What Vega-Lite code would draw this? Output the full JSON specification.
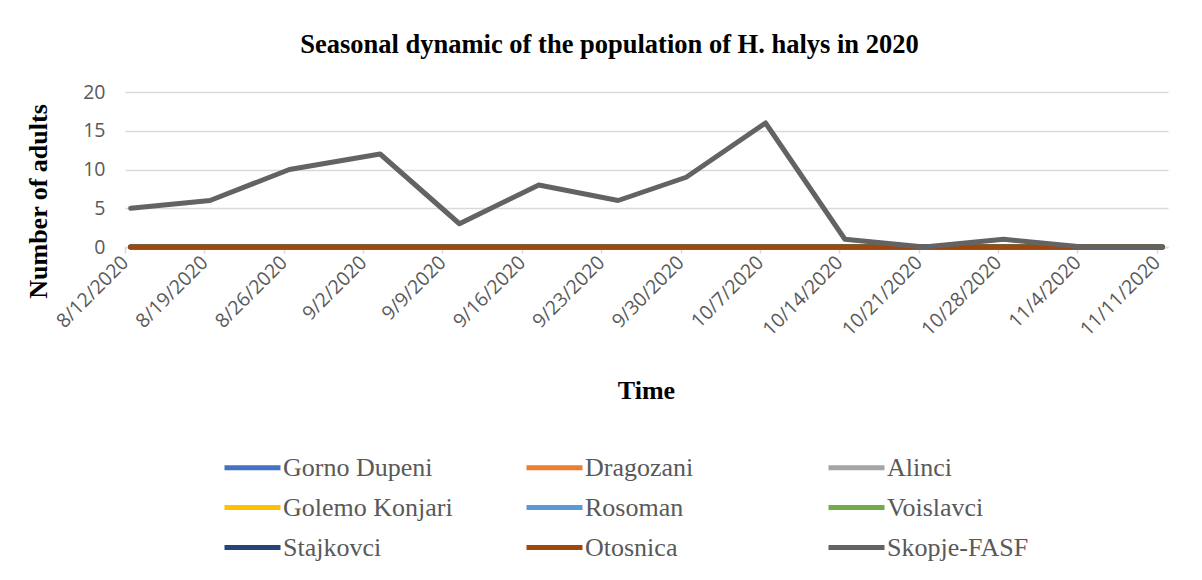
{
  "$schema": "https://vega.github.io/schema/vega-lite/v6.json",
  "autosize": {"type": "none"},
  "width": 1043,
  "height": 155,
  "padding": {"left": 125, "top": 92, "right": 34, "bottom": 333},
  "background": "white",
  "title": {
    "text": "Seasonal dynamic of the population of H. halys in 2020",
    "anchor": "middle",
    "dx": -37,
    "offset": 24,
    "font": "Liberation Serif",
    "fontSize": 26.5,
    "fontWeight": "bold",
    "color": "#000000"
  },
  "datasets": {
    "counts": [
      {"d": "2020-08-12", "s": "Gorno Dupeni", "v": 0}, {"d": "2020-08-19", "s": "Gorno Dupeni", "v": 0}, {"d": "2020-08-26", "s": "Gorno Dupeni", "v": 0}, {"d": "2020-09-03", "s": "Gorno Dupeni", "v": 0}, {"d": "2020-09-10", "s": "Gorno Dupeni", "v": 0}, {"d": "2020-09-17", "s": "Gorno Dupeni", "v": 0}, {"d": "2020-09-24", "s": "Gorno Dupeni", "v": 0}, {"d": "2020-09-30", "s": "Gorno Dupeni", "v": 0}, {"d": "2020-10-07", "s": "Gorno Dupeni", "v": 0}, {"d": "2020-10-14", "s": "Gorno Dupeni", "v": 0}, {"d": "2020-10-21", "s": "Gorno Dupeni", "v": 0}, {"d": "2020-10-28", "s": "Gorno Dupeni", "v": 0}, {"d": "2020-11-04", "s": "Gorno Dupeni", "v": 0}, {"d": "2020-11-11", "s": "Gorno Dupeni", "v": 0},
      {"d": "2020-08-12", "s": "Dragozani", "v": 0}, {"d": "2020-08-19", "s": "Dragozani", "v": 0}, {"d": "2020-08-26", "s": "Dragozani", "v": 0}, {"d": "2020-09-03", "s": "Dragozani", "v": 0}, {"d": "2020-09-10", "s": "Dragozani", "v": 0}, {"d": "2020-09-17", "s": "Dragozani", "v": 0}, {"d": "2020-09-24", "s": "Dragozani", "v": 0}, {"d": "2020-09-30", "s": "Dragozani", "v": 0}, {"d": "2020-10-07", "s": "Dragozani", "v": 0}, {"d": "2020-10-14", "s": "Dragozani", "v": 0}, {"d": "2020-10-21", "s": "Dragozani", "v": 0}, {"d": "2020-10-28", "s": "Dragozani", "v": 0}, {"d": "2020-11-04", "s": "Dragozani", "v": 0}, {"d": "2020-11-11", "s": "Dragozani", "v": 0},
      {"d": "2020-08-12", "s": "Alinci", "v": 0}, {"d": "2020-08-19", "s": "Alinci", "v": 0}, {"d": "2020-08-26", "s": "Alinci", "v": 0}, {"d": "2020-09-03", "s": "Alinci", "v": 0}, {"d": "2020-09-10", "s": "Alinci", "v": 0}, {"d": "2020-09-17", "s": "Alinci", "v": 0}, {"d": "2020-09-24", "s": "Alinci", "v": 0}, {"d": "2020-09-30", "s": "Alinci", "v": 0}, {"d": "2020-10-07", "s": "Alinci", "v": 0}, {"d": "2020-10-14", "s": "Alinci", "v": 0}, {"d": "2020-10-21", "s": "Alinci", "v": 0}, {"d": "2020-10-28", "s": "Alinci", "v": 0}, {"d": "2020-11-04", "s": "Alinci", "v": 0}, {"d": "2020-11-11", "s": "Alinci", "v": 0},
      {"d": "2020-08-12", "s": "Golemo Konjari", "v": 0}, {"d": "2020-08-19", "s": "Golemo Konjari", "v": 0}, {"d": "2020-08-26", "s": "Golemo Konjari", "v": 0}, {"d": "2020-09-03", "s": "Golemo Konjari", "v": 0}, {"d": "2020-09-10", "s": "Golemo Konjari", "v": 0}, {"d": "2020-09-17", "s": "Golemo Konjari", "v": 0}, {"d": "2020-09-24", "s": "Golemo Konjari", "v": 0}, {"d": "2020-09-30", "s": "Golemo Konjari", "v": 0}, {"d": "2020-10-07", "s": "Golemo Konjari", "v": 0}, {"d": "2020-10-14", "s": "Golemo Konjari", "v": 0}, {"d": "2020-10-21", "s": "Golemo Konjari", "v": 0}, {"d": "2020-10-28", "s": "Golemo Konjari", "v": 0}, {"d": "2020-11-04", "s": "Golemo Konjari", "v": 0}, {"d": "2020-11-11", "s": "Golemo Konjari", "v": 0},
      {"d": "2020-08-12", "s": "Rosoman", "v": 0}, {"d": "2020-08-19", "s": "Rosoman", "v": 0}, {"d": "2020-08-26", "s": "Rosoman", "v": 0}, {"d": "2020-09-03", "s": "Rosoman", "v": 0}, {"d": "2020-09-10", "s": "Rosoman", "v": 0}, {"d": "2020-09-17", "s": "Rosoman", "v": 0}, {"d": "2020-09-24", "s": "Rosoman", "v": 0}, {"d": "2020-09-30", "s": "Rosoman", "v": 0}, {"d": "2020-10-07", "s": "Rosoman", "v": 0}, {"d": "2020-10-14", "s": "Rosoman", "v": 0}, {"d": "2020-10-21", "s": "Rosoman", "v": 0}, {"d": "2020-10-28", "s": "Rosoman", "v": 0}, {"d": "2020-11-04", "s": "Rosoman", "v": 0}, {"d": "2020-11-11", "s": "Rosoman", "v": 0},
      {"d": "2020-08-12", "s": "Voislavci", "v": 0}, {"d": "2020-08-19", "s": "Voislavci", "v": 0}, {"d": "2020-08-26", "s": "Voislavci", "v": 0}, {"d": "2020-09-03", "s": "Voislavci", "v": 0}, {"d": "2020-09-10", "s": "Voislavci", "v": 0}, {"d": "2020-09-17", "s": "Voislavci", "v": 0}, {"d": "2020-09-24", "s": "Voislavci", "v": 0}, {"d": "2020-09-30", "s": "Voislavci", "v": 0}, {"d": "2020-10-07", "s": "Voislavci", "v": 0}, {"d": "2020-10-14", "s": "Voislavci", "v": 0}, {"d": "2020-10-21", "s": "Voislavci", "v": 0}, {"d": "2020-10-28", "s": "Voislavci", "v": 0}, {"d": "2020-11-04", "s": "Voislavci", "v": 0}, {"d": "2020-11-11", "s": "Voislavci", "v": 0},
      {"d": "2020-08-12", "s": "Stajkovci", "v": 0}, {"d": "2020-08-19", "s": "Stajkovci", "v": 0}, {"d": "2020-08-26", "s": "Stajkovci", "v": 0}, {"d": "2020-09-03", "s": "Stajkovci", "v": 0}, {"d": "2020-09-10", "s": "Stajkovci", "v": 0}, {"d": "2020-09-17", "s": "Stajkovci", "v": 0}, {"d": "2020-09-24", "s": "Stajkovci", "v": 0}, {"d": "2020-09-30", "s": "Stajkovci", "v": 0}, {"d": "2020-10-07", "s": "Stajkovci", "v": 0}, {"d": "2020-10-14", "s": "Stajkovci", "v": 0}, {"d": "2020-10-21", "s": "Stajkovci", "v": 0}, {"d": "2020-10-28", "s": "Stajkovci", "v": 0}, {"d": "2020-11-04", "s": "Stajkovci", "v": 0}, {"d": "2020-11-11", "s": "Stajkovci", "v": 0},
      {"d": "2020-08-12", "s": "Otosnica", "v": 0}, {"d": "2020-08-19", "s": "Otosnica", "v": 0}, {"d": "2020-08-26", "s": "Otosnica", "v": 0}, {"d": "2020-09-03", "s": "Otosnica", "v": 0}, {"d": "2020-09-10", "s": "Otosnica", "v": 0}, {"d": "2020-09-17", "s": "Otosnica", "v": 0}, {"d": "2020-09-24", "s": "Otosnica", "v": 0}, {"d": "2020-09-30", "s": "Otosnica", "v": 0}, {"d": "2020-10-07", "s": "Otosnica", "v": 0}, {"d": "2020-10-14", "s": "Otosnica", "v": 0}, {"d": "2020-10-21", "s": "Otosnica", "v": 0}, {"d": "2020-10-28", "s": "Otosnica", "v": 0}, {"d": "2020-11-04", "s": "Otosnica", "v": 0}, {"d": "2020-11-11", "s": "Otosnica", "v": 0},
      {"d": "2020-08-12", "s": "Skopje-FASF", "v": 5}, {"d": "2020-08-19", "s": "Skopje-FASF", "v": 6}, {"d": "2020-08-26", "s": "Skopje-FASF", "v": 10}, {"d": "2020-09-03", "s": "Skopje-FASF", "v": 12}, {"d": "2020-09-10", "s": "Skopje-FASF", "v": 3}, {"d": "2020-09-17", "s": "Skopje-FASF", "v": 8}, {"d": "2020-09-24", "s": "Skopje-FASF", "v": 6}, {"d": "2020-09-30", "s": "Skopje-FASF", "v": 9}, {"d": "2020-10-07", "s": "Skopje-FASF", "v": 16}, {"d": "2020-10-14", "s": "Skopje-FASF", "v": 1}, {"d": "2020-10-21", "s": "Skopje-FASF", "v": 0}, {"d": "2020-10-28", "s": "Skopje-FASF", "v": 1}, {"d": "2020-11-04", "s": "Skopje-FASF", "v": 0}, {"d": "2020-11-11", "s": "Skopje-FASF", "v": 0}
    ]
  },
  "data": {"name": "counts"},
  "mark": {"type": "line", "strokeWidth": 5, "strokeCap": "round", "strokeJoin": "round"},
  "encoding": {
    "x": {
      "field": "d",
      "type": "temporal",
      "timeUnit": "utcyearmonthdate",
      "bandPosition": 0.5,
      "scale": {
        "domain": [
          {"year": 2020, "month": 8, "date": 12, "utc": true},
          {"year": 2020, "month": 11, "date": 12, "utc": true}
        ],
        "nice": false
      },
      "axis": {
        "title": "Time",
        "titleFont": "Liberation Serif",
        "titleFontSize": 26,
        "titleFontWeight": "bold",
        "titleColor": "#000000",
        "titleX": 521,
        "titleY": 143,
        "titleBaseline": "middle",
        "titleAlign": "center",
        "values": [
          {"year": 2020, "month": 8, "date": 12, "utc": true},
          {"year": 2020, "month": 8, "date": 19, "utc": true},
          {"year": 2020, "month": 8, "date": 26, "utc": true},
          {"year": 2020, "month": 9, "date": 2, "utc": true},
          {"year": 2020, "month": 9, "date": 9, "utc": true},
          {"year": 2020, "month": 9, "date": 16, "utc": true},
          {"year": 2020, "month": 9, "date": 23, "utc": true},
          {"year": 2020, "month": 9, "date": 30, "utc": true},
          {"year": 2020, "month": 10, "date": 7, "utc": true},
          {"year": 2020, "month": 10, "date": 14, "utc": true},
          {"year": 2020, "month": 10, "date": 21, "utc": true},
          {"year": 2020, "month": 10, "date": 28, "utc": true},
          {"year": 2020, "month": 11, "date": 4, "utc": true},
          {"year": 2020, "month": 11, "date": 11, "utc": true}
        ],
        "format": "%-m/%-d/%Y",
        "labelAngle": -45,
        "labelAlign": "right",
        "labelBaseline": "middle",
        "labelPadding": 6,
        "labelFont": "Open Sans",
        "labelFontSize": 19.5,
        "labelColor": "#595959",
        "labelOverlap": false,
        "labelFlush": false,
        "grid": false,
        "domain": true,
        "domainColor": "#d9d9d9",
        "domainWidth": 1.5,
        "ticks": true,
        "tickColor": "#d9d9d9",
        "tickWidth": 1.5,
        "tickSize": 6
      }
    },
    "y": {
      "field": "v",
      "type": "quantitative",
      "scale": {"domain": [0, 20], "nice": false},
      "axis": {
        "title": "Number of adults",
        "titleFont": "Liberation Serif",
        "titleFontSize": 26,
        "titleFontWeight": "bold",
        "titleColor": "#000000",
        "titleX": -87,
        "titleY": 109,
        "titleAngle": -90,
        "titleAlign": "center",
        "titleBaseline": "middle",
        "values": [0, 5, 10, 15, 20],
        "labelFont": "Open Sans",
        "labelFontSize": 19.5,
        "labelColor": "#595959",
        "labelPadding": 20,
        "ticks": false,
        "domain": false,
        "grid": true,
        "gridColor": "#d9d9d9",
        "gridWidth": 1.5
      }
    },
    "color": {
      "field": "s",
      "type": "nominal",
      "sort": null,
      "scale": {
        "domain": ["Gorno Dupeni", "Dragozani", "Alinci", "Golemo Konjari", "Rosoman", "Voislavci", "Stajkovci", "Otosnica", "Skopje-FASF"],
        "range": ["#4472C4", "#ED7D31", "#A5A5A5", "#FFC000", "#5B9BD5", "#70AD47", "#264478", "#9E480E", "#636363"]
      },
      "legend": {
        "orient": "none",
        "legendX": 97,
        "legendY": 359,
        "direction": "horizontal",
        "columns": 3,
        "gridAlign": "all",
        "columnPadding": 63,
        "rowPadding": 10,
        "padding": 0,
        "title": null,
        "symbolType": "M-1,0H3",
        "symbolSize": 784,
        "symbolStrokeWidth": 5,
        "labelFont": "Liberation Serif",
        "labelFontSize": 26,
        "labelColor": "#595959",
        "labelOffset": 28,
        "labelLimit": 400
      }
    }
  },
  "config": {
    "view": {"stroke": null}
  }
}
